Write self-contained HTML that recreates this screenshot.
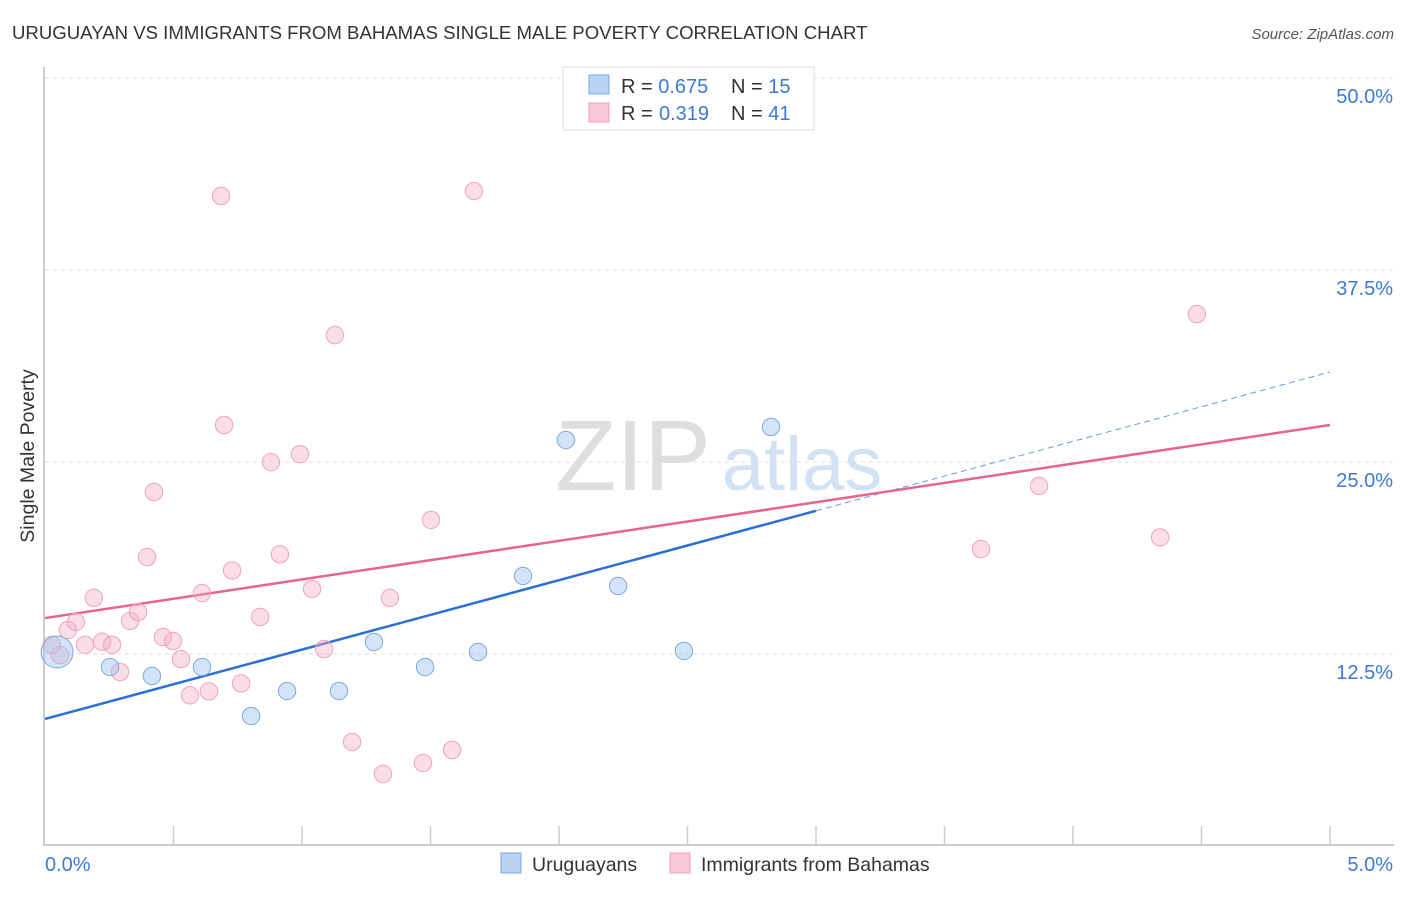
<!DOCTYPE html>
<html><head><meta charset="utf-8"><style>
body{margin:0;background:#fff;font-family:"Liberation Sans",sans-serif;}
svg text{font-family:"Liberation Sans",sans-serif;}
</style></head><body>
<svg id="c" width="1406" height="892" xmlns="http://www.w3.org/2000/svg">
<text x="12" y="39" font-size="18.6" fill="#333">URUGUAYAN VS IMMIGRANTS FROM BAHAMAS SINGLE MALE POVERTY CORRELATION CHART</text>
<text x="1394" y="39" font-size="15" fill="#555" font-style="italic" text-anchor="end">Source: ZipAtlas.com</text>
<text x="34" y="456" font-size="19.5" fill="#333" text-anchor="middle" transform="rotate(-90 34 456)">Single Male Poverty</text>
<g><text x="633" y="490" font-size="100" fill="#dedede" font-family="Liberation Serif" text-anchor="middle">ZIP</text><text x="802" y="490" font-size="76" fill="#d3e1f5" text-anchor="middle">atlas</text></g>
<g id="grid"></g><g id="lines"></g><g id="pts"></g>
<g>
<rect x="563" y="67" width="251" height="63" fill="#fff" stroke="#ddd"/>
<rect x="589" y="75" width="20" height="19" fill="#b9d3f5" stroke="#7fa8e0"/>
<rect x="589" y="103" width="20" height="19" fill="#f9c8d6" stroke="#f0a0b8"/>
<text x="621" y="93" font-size="20" fill="#333">R = <tspan fill="#3d7ad6">0.675</tspan><tspan x="731">N = </tspan><tspan fill="#3d7ad6">15</tspan></text>
<text x="621" y="120" font-size="20" fill="#333">R = <tspan fill="#3d7ad6" x="659">0.319</tspan><tspan x="731">N = </tspan><tspan fill="#3d7ad6">41</tspan></text>
</g>
<g>
<rect x="501" y="853" width="20" height="20" fill="#b9d3f5" stroke="#7fa8e0"/>
<text x="532" y="871" font-size="19.5" fill="#333">Uruguayans</text>
<rect x="670" y="853" width="20" height="20" fill="#f9c8d6" stroke="#f0a0b8"/>
<text x="701" y="871" font-size="19.5" fill="#333">Immigrants from Bahamas</text>
</g>
</svg>
<script>
const yTicks=[12.5,25,37.5,50];
const yTickLabels=["12.5%","25.0%","37.5%","50.0%"];
const xTickLabels=["0.0%","5.0%"];
const blueX=[0.047,0.253,0.416,0.611,0.802,0.942,1.144,1.280,1.479,1.685,1.860,2.027,2.230,2.486,2.825];
const blueY=[12.63,11.65,11.07,11.65,8.46,10.09,10.09,13.28,11.65,12.63,17.58,26.43,16.93,12.70,27.28];
const pinkX=[0.027,0.058,0.089,0.12,0.19,0.156,0.222,0.261,0.292,0.331,0.362,0.397,0.424,0.459,0.498,0.529,0.564,0.611,0.638,0.685,0.697,0.728,0.763,0.837,0.879,0.914,0.992,1.039,1.086,1.128,1.195,1.315,1.342,1.471,1.502,1.584,1.669,3.642,3.868,4.339,4.482];
const pinkY=[13.1,12.43,14.06,14.58,16.15,13.1,13.3,13.1,11.33,14.65,15.23,18.81,23.05,13.6,13.35,12.17,9.81,16.47,10.07,42.32,27.41,17.94,10.59,14.91,24.99,18.99,25.51,16.73,12.82,33.26,6.77,4.69,16.15,5.4,21.23,6.25,42.64,19.33,23.44,20.09,34.63];
const blueLine=[8.27,30.86]; const blueSolidEnd=3.0;
const pinkLine=[14.84,27.41];
const X=v=>45+v/5*1285, Y=v=>846-v/12.5*192;
const NS="http://www.w3.org/2000/svg";
function mk(p,t,a){const e=document.createElementNS(NS,t);for(const k in a)e.setAttribute(k,a[k]);p.appendChild(e);return e;}
const g=document.getElementById('grid');
yTicks.forEach((t,i)=>{
 const l=mk(g,'line',{x1:45,x2:1394,y1:Y(t),y2:Y(t),stroke:'#ddd','stroke-dasharray':'4,4'});
 
 
 const tx=mk(g,'text',{x:1393,y:Y(t)+25,'font-size':20,fill:'#3d7ad6','text-anchor':'end'});tx.textContent=yTickLabels[i];
 
 
});
const ax=mk(g,'path',{d:'M44,67V845H1394',fill:'none',stroke:'#bbb','stroke-width':1.5});


for(let i=1;i<=10;i++){const t=mk(g,'line',{x1:45+i*128.5,x2:45+i*128.5,y1:826,y2:845,stroke:'#ccc','stroke-width':1.5});
 
 }
const x0=mk(g,'text',{x:45,y:871,'font-size':20,fill:'#3d7ad6'});x0.textContent=xTickLabels[0];


const x1=mk(g,'text',{x:1393,y:871,'font-size':20,fill:'#3d7ad6','text-anchor':'end'});x1.textContent=xTickLabels[1];


const p=document.getElementById('pts');
pinkX.forEach((x,i)=>{const c=mk(p,'circle',{cx:X(x),cy:Y(pinkY[i]),r:8.7,fill:'rgba(244,170,192,0.4)',stroke:'#eea5bb'});
 
 });
blueX.forEach((x,i)=>{const c=mk(p,'circle',{cx:X(x),cy:Y(blueY[i]),r:i==0?16:8.7,fill:'rgba(160,195,240,0.45)',stroke:'#7fa8e0'});
 
 });
const L=document.getElementById('lines');
const bf=v=>blueLine[0]+(blueLine[1]-blueLine[0])*v/5;
const b1=mk(L,'line',{x1:X(0),y1:Y(bf(0)),x2:X(blueSolidEnd),y2:Y(bf(blueSolidEnd)),stroke:'#2a6fd6','stroke-width':2.5});


const b2=mk(L,'line',{x1:X(blueSolidEnd),y1:Y(bf(blueSolidEnd)),x2:X(5),y2:Y(bf(5)),stroke:'#6b9be0','stroke-width':1,'stroke-dasharray':'6,4'});


const pl=mk(L,'line',{x1:X(0),y1:Y(pinkLine[0]),x2:X(5),y2:Y(pinkLine[1]),stroke:'#e8648d','stroke-width':2.5});


</script>
</body></html>
